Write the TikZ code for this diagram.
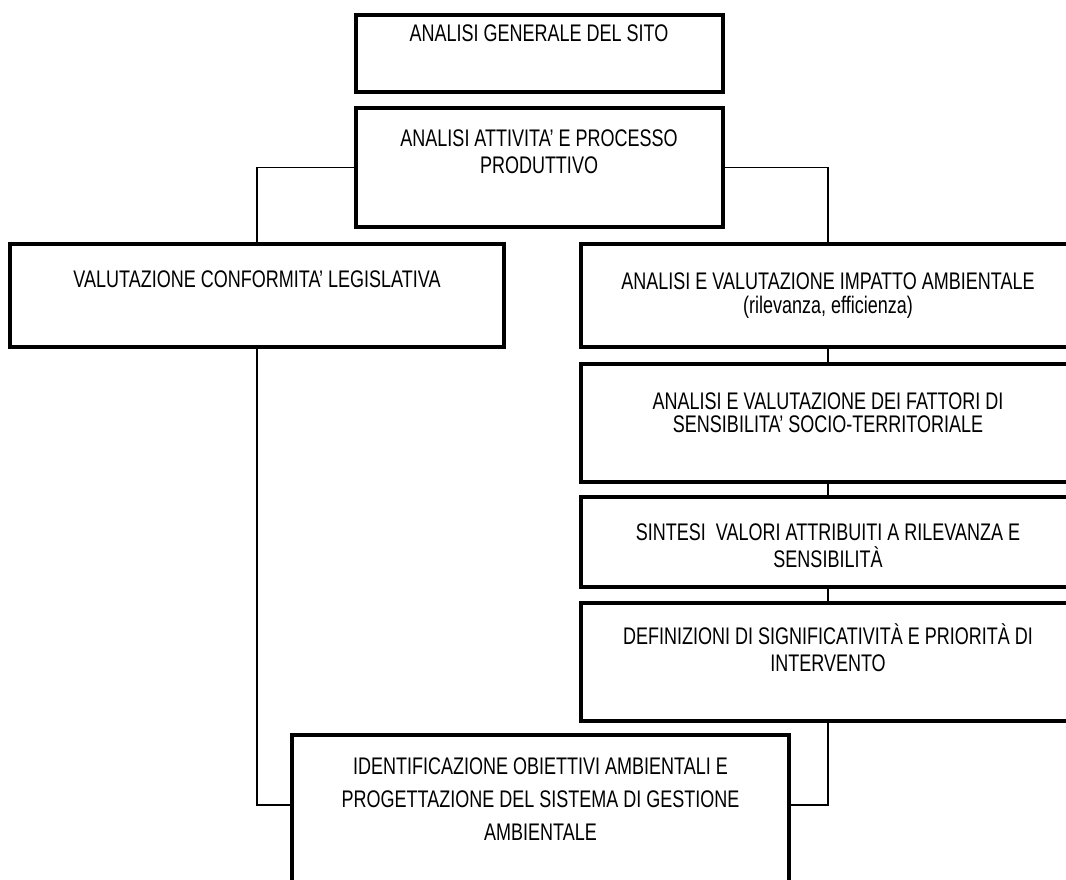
\documentclass[tikz,border=0pt]{standalone}
\usepackage{fontspec}
\setmainfont{Liberation Sans}[FakeStretch=0.75]
\usetikzlibrary{positioning}
\tikzset{
  box/.style={draw, line width=4pt, inner sep=0pt},
  txt/.style={font=\fontsize{24}{27}\selectfont, align=center, inner sep=0pt,
    execute at begin node=\strut},
  link/.style={line width=1.3pt},
}
\begin{document}
\begin{tikzpicture}[x=1pt,y=-1pt]
\useasboundingbox (0,0) rectangle (1066,880);
\clip (0,0) rectangle (1066,880);

% boxes
\node[box, minimum width=367pt, minimum height=77pt] (sito) at (539,53.5) {};
\node[box, minimum width=367pt, minimum height=118.5pt] (attivita) at (539,167.75) {};
\node[box, minimum width=494pt, minimum height=103pt] (conform) at (257,295.5) {};
\node[box, minimum width=494pt, minimum height=103pt] (impatto) at (828,295.5) {};
\node[box, minimum width=494pt, minimum height=118pt] (sensib) at (828,423) {};
\node[box, minimum width=494pt, minimum height=90pt] (sintesi) at (828,542) {};
\node[box, minimum width=494pt, minimum height=118pt] (definiz) at (828,662) {};
\node[box, minimum width=497pt, minimum height=180pt] (obiett) at (540.5,825) {};

% texts
\node[txt, below=9pt of sito.north] (sitoT) {ANALISI GENERALE DEL SITO};
\node[txt, below=23pt of attivita.north] (attivitaT) {ANALISI ATTIVITA’ E PROCESSO\\PRODUTTIVO};
\node[txt, below=26pt of conform.north] (conformT) {VALUTAZIONE CONFORMITA’ LEGISLATIVA};
\node[txt, below=31pt of impatto.north] (impattoT) {ANALISI E VALUTAZIONE IMPATTO AMBIENTALE\\[-3pt](rilevanza, efficienza)};
\node[txt, below=31pt of sensib.north] (sensibT) {ANALISI E VALUTAZIONE DEI FATTORI DI\\[-4pt]SENSIBILITA’ SOCIO-TERRITORIALE};
\node[txt, below=29pt of sintesi.north] (sintesiT) {SINTESI\ \ VALORI ATTRIBUITI A RILEVANZA E\\SENSIBILITÀ};
\node[txt, below=22pt of definiz.north] (definizT) {DEFINIZIONI DI SIGNIFICATIVITÀ E PRIORITÀ DI\\INTERVENTO};
\node[txt, below=25pt of obiett.north] (obiettT) {IDENTIFICAZIONE OBIETTIVI AMBIENTALI E\\[6pt]PROGETTAZIONE DEL SISTEMA DI GESTIONE\\[6pt]AMBIENTALE};

% connectors
\coordinate (joinL) at ([yshift=-72pt]obiett.north west);
\coordinate (joinR) at ([yshift=-72pt]obiett.north east);
\draw[link] (attivita.west) -| (conform.north);
\draw[link] (attivita.east) -| (impatto.north);
\draw[link] (impatto.south) -- (sensib.north);
\draw[link] (sensib.south) -- (sintesi.north);
\draw[link] (sintesi.south) -- (definiz.north);
\draw[link] (conform.south) |- (joinL);
\draw[link] (definiz.south) |- (joinR);
\end{tikzpicture}
\end{document}
